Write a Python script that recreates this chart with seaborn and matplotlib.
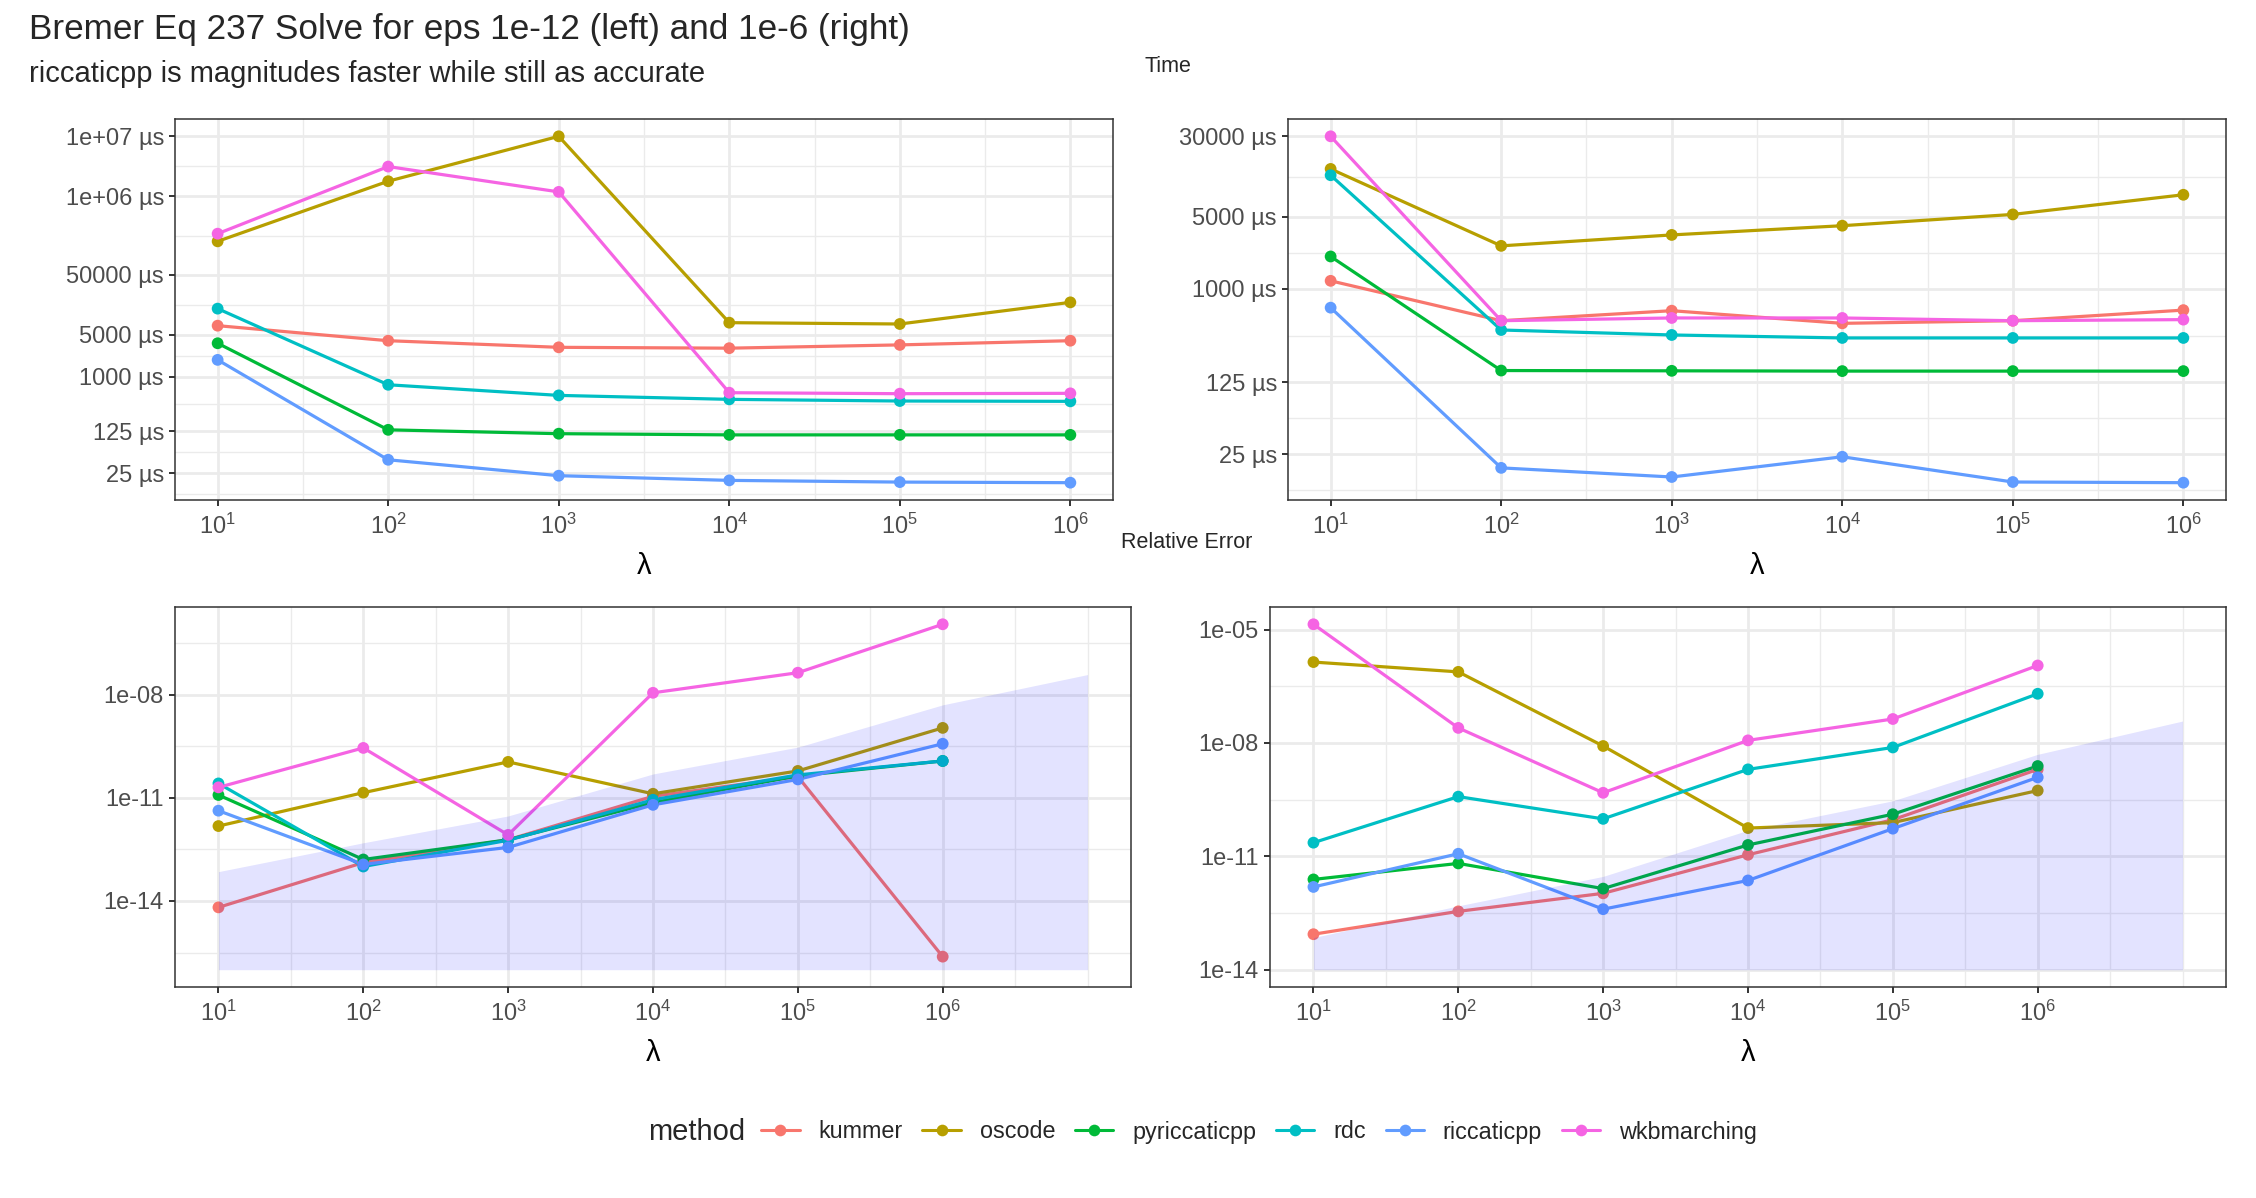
import numpy as np
import pandas as pd
import matplotlib
matplotlib.use("Agg")
import matplotlib.pyplot as plt
import seaborn as sns
from matplotlib.lines import Line2D
from matplotlib.ticker import FixedLocator, NullLocator

# ---------------- data ----------------
lam = [1e1, 1e2, 1e3, 1e4, 1e5, 1e6]
methods = ["kummer", "oscode", "pyriccaticpp", "rdc", "riccaticpp", "wkbmarching"]
colors = ["#F8766D", "#B79F00", "#00BA38", "#00BFC4", "#619CFF", "#F564E3"]

# time (microseconds), eps 1e-12 (left)
time_l_kummer = [7080, 3980, 3090, 2990, 3390, 3980]
time_l_oscode = [179000, 1.79e6, 1.0e7, 7940, 7550, 17300]
time_l_pyriccaticpp = [3610, 131, 113, 108, 108, 108]
time_l_rdc = [13600, 736, 490, 421, 395, 390]
time_l_riccaticpp = [1910, 41.6, 22.6, 18.9, 17.7, 17.3]
time_l_wkbmarching = [240000, 3.14e6, 1.19e6, 543, 523, 530]

# time (microseconds), eps 1e-6 (right)
time_r_kummer = [1197, 492, 615, 464, 492, 623]
time_r_oscode = [14500, 2610, 3330, 4090, 5260, 8150]
time_r_pyriccaticpp = [2060, 162, 161, 160, 160, 160]
time_r_rdc = [12600, 400, 358, 335, 335, 335]
time_r_riccaticpp = [658, 18.5, 15.1, 23.7, 13.5, 13.3]
time_r_wkbmarching = [30000, 492, 523, 523, 492, 504]

# relative error, eps 1e-12 (left)
err_l_kummer = [6.5e-15, 1.3e-13, 6.0e-13, 1.1e-11, 4.1e-11, 2.4e-16]
err_l_oscode = [1.5e-12, 1.4e-11, 1.1e-10, 1.3e-11, 6.0e-11, 1.07e-9]
err_l_pyriccaticpp = [1.2e-11, 1.6e-13, 6.0e-13, 7.2e-12, 4.3e-11, 1.17e-10]
err_l_rdc = [2.6e-11, 1.0e-13, 5.8e-13, 8.7e-12, 4.6e-11, 1.17e-10]
err_l_riccaticpp = [4.2e-12, 1.15e-13, 3.6e-13, 6.2e-12, 3.4e-11, 3.7e-10]
err_l_wkbmarching = [2.0e-11, 2.8e-10, 8.3e-13, 1.12e-8, 4.3e-8, 1.1e-6]

# relative error, eps 1e-6 (right)
err_r_kummer = [8.7e-14, 3.5e-13, 1.05e-12, 1.1e-11, 9.3e-11, 2.0e-9]
err_r_oscode = [1.38e-6, 7.6e-7, 8.3e-9, 5.6e-11, 7.8e-11, 5.5e-10]
err_r_pyriccaticpp = [2.45e-12, 6.5e-12, 1.4e-12, 2.0e-11, 1.3e-10, 2.45e-9]
err_r_rdc = [2.3e-11, 3.8e-10, 9.8e-11, 2.0e-9, 7.6e-9, 2.0e-7]
err_r_riccaticpp = [1.55e-12, 1.17e-11, 4.0e-13, 2.3e-12, 5.4e-11, 1.23e-9]
err_r_wkbmarching = [1.38e-5, 2.5e-8, 4.8e-10, 1.17e-8, 4.3e-8, 1.12e-6]

# shaded accuracy band
band_lam = [1e1, 1e2, 1e3, 1e4, 1e5, 1e6, 1e7]
band_upper = [7.1e-14, 4.9e-13, 2.95e-12, 4.9e-11, 2.95e-10, 5.0e-9, 3.8e-8]
band_lower_l = [1e-16] * 7
band_lower_r = [1e-14] * 7

# tick breaks / labels
tl_yticks = [25, 125, 1000, 5000, 50000, 1e6, 1e7]
tl_ylabels = ["25 µs", "125 µs", "1000 µs", "5000 µs", "50000 µs", "1e+06 µs", "1e+07 µs"]
tr_yticks = [25, 125, 1000, 5000, 30000]
tr_ylabels = ["25 µs", "125 µs", "1000 µs", "5000 µs", "30000 µs"]
bl_yticks = [1e-14, 1e-11, 1e-8]
bl_ylabels = ["1e-14", "1e-11", "1e-08"]
br_yticks = [1e-14, 1e-11, 1e-8, 1e-5]
br_ylabels = ["1e-14", "1e-11", "1e-08", "1e-05"]
xticks = [1e1, 1e2, 1e3, 1e4, 1e5, 1e6]
xlabels = [r"$\mathregular{10^{%d}}$" % k for k in range(1, 7)]

title = "Bremer Eq 237 Solve for eps 1e-12 (left) and 1e-6 (right)"
subtitle = "riccaticpp is magnitudes faster while still as accurate"


def frame(series):
    rows = []
    for m, vals in zip(methods, series):
        for x, v in zip(lam, vals):
            rows.append({"lam": x, "val": v, "method": m})
    return pd.DataFrame(rows)


df_tl = frame([time_l_kummer, time_l_oscode, time_l_pyriccaticpp, time_l_rdc,
               time_l_riccaticpp, time_l_wkbmarching])
df_tr = frame([time_r_kummer, time_r_oscode, time_r_pyriccaticpp, time_r_rdc,
               time_r_riccaticpp, time_r_wkbmarching])
df_bl = frame([err_l_kummer, err_l_oscode, err_l_pyriccaticpp, err_l_rdc,
               err_l_riccaticpp, err_l_wkbmarching])
df_br = frame([err_r_kummer, err_r_oscode, err_r_pyriccaticpp, err_r_rdc,
               err_r_riccaticpp, err_r_wkbmarching])

# ---------------- style ----------------
sns.set_style("white")
FONT = ["Liberation Sans", "DejaVu Sans"]
plt.rcParams["font.family"] = FONT
plt.rcParams["mathtext.fontset"] = "custom"
plt.rcParams["mathtext.rm"] = "Liberation Sans"
plt.rcParams["mathtext.it"] = "Liberation Sans:italic"
plt.rcParams["mathtext.bf"] = "Liberation Sans:bold"

W, H = 2256, 1198
fig = plt.figure(figsize=(W / 100, H / 100), dpi=100)
palette = dict(zip(methods, colors))

GRID = "#EBEBEB"
DARK = "#333333"
TICKTXT = "#4D4D4D"
TICKSIZE = 17
BASE = 21


def rect(x0, y0, x1, y1):
    return [x0 / W, 1 - y1 / H, (x1 - x0) / W, (y1 - y0) / H]


def minor_breaks(major_log, lo, hi):
    b = list(major_log)
    bd = b[1] - b[0]
    if lo < b[0]:
        b = [b[0] - bd] + b
    if hi > b[-1]:
        b = b + [b[-1] + bd]
    out = []
    for a, c in zip(b[:-1], b[1:]):
        out += [a, (a + c) / 2]
    out.append(b[-1])
    return [v for v in out if lo <= v <= hi]


def expand(lo, hi, f=0.05):
    r = hi - lo
    return lo - f * r, hi + f * r


def panel(box, df, yticks, ylabels, band_lower=None):
    ax = fig.add_axes(rect(*box))
    ax.set_xscale("log")
    ax.set_yscale("log")
    vals = np.log10(df["val"].values)
    if band_lower is None:
        xlo, xhi = expand(1, 6)
        ylo, yhi = expand(vals.min(), vals.max())
    else:
        xlo, xhi = expand(1, 7)
        allv = np.concatenate([vals, np.log10(band_upper), np.log10(band_lower)])
        ylo, yhi = expand(allv.min(), allv.max())
    # grid lines (ggplot style: minor then major)
    mx = minor_breaks(list(range(1, 7)), xlo, xhi)
    my = minor_breaks(list(np.log10(yticks)), ylo, yhi)
    for v in mx:
        ax.axvline(10 ** v, color=GRID, lw=1.0, zorder=0)
    for v in my:
        ax.axhline(10 ** v, color=GRID, lw=1.0, zorder=0)
    for v in xticks:
        ax.axvline(v, color=GRID, lw=1.9, zorder=0.5)
    for v in yticks:
        ax.axhline(v, color=GRID, lw=1.9, zorder=0.5)

    sns.lineplot(data=df, x="lam", y="val", hue="method", palette=palette,
                 hue_order=methods, linewidth=2.3, legend=False, ax=ax,
                 zorder=2, estimator=None, sort=False)
    sns.scatterplot(data=df, x="lam", y="val", hue="method", palette=palette,
                    hue_order=methods, s=72, linewidth=0, legend=False, ax=ax,
                    zorder=3)
    if band_lower is not None:
        ax.fill_between(band_lam, band_lower, band_upper, color="blue",
                        alpha=0.11, linewidth=0, zorder=4)

    ax.set_xlim(10 ** xlo, 10 ** xhi)
    ax.set_ylim(10 ** ylo, 10 ** yhi)
    ax.xaxis.set_major_locator(FixedLocator(xticks))
    ax.xaxis.set_minor_locator(NullLocator())
    ax.set_xticklabels(xlabels)
    ax.yaxis.set_major_locator(FixedLocator(yticks))
    ax.yaxis.set_minor_locator(NullLocator())
    ax.set_yticklabels(ylabels)
    ax.tick_params(axis="both", which="major", length=4, width=1.4,
                   color=DARK, labelcolor=TICKTXT, labelsize=TICKSIZE, pad=4,
                   bottom=True, left=True)
    ax.tick_params(axis="x", pad=6)
    for s in ax.spines.values():
        s.set_color(DARK)
        s.set_linewidth(1.1)
        s.set_zorder(6)
    ax.set_xlabel("λ", fontsize=BASE, color="black", labelpad=9)
    ax.set_ylabel("")
    ax.grid(False)
    return ax


panel((175, 119, 1113, 500), df_tl, tl_yticks, tl_ylabels)
panel((1288, 119, 2226, 500), df_tr, tr_yticks, tr_ylabels)
panel((175, 607, 1131, 987), df_bl, bl_yticks, bl_ylabels, band_lower_l)
panel((1270, 607, 2226, 987), df_br, br_yticks, br_ylabels, band_lower_r)

# titles
fig.text(29 / W, 1 - 30 / H, title, fontsize=25.3, ha="left", va="center")
fig.text(29 / W, 1 - 74 / H, subtitle, fontsize=BASE, ha="left", va="center")
fig.text(1168 / W, 1 - 66 / H, "Time", fontsize=15.5, ha="center", va="center")
fig.text(1187 / W, 1 - 543 / H, "Relative Error", fontsize=15.5,
         ha="center", va="center")

# legend
handles = [Line2D([0], [0], color=c, lw=2.2, marker="o", markersize=8.4,
                  markeredgewidth=0) for c in colors]
fig.text(648 / W, 1 - 1132 / H, "method", fontsize=BASE, ha="left", va="center")
fig.legend(handles, methods, loc="center", ncol=6, frameon=False,
           bbox_to_anchor=(1259 / W, 1 - 1132 / H), fontsize=16.8,
           handlelength=1.65, handletextpad=0.8, columnspacing=0.85,
           borderaxespad=0, borderpad=0)

fig.savefig("out.png", dpi=100, facecolor="white")
